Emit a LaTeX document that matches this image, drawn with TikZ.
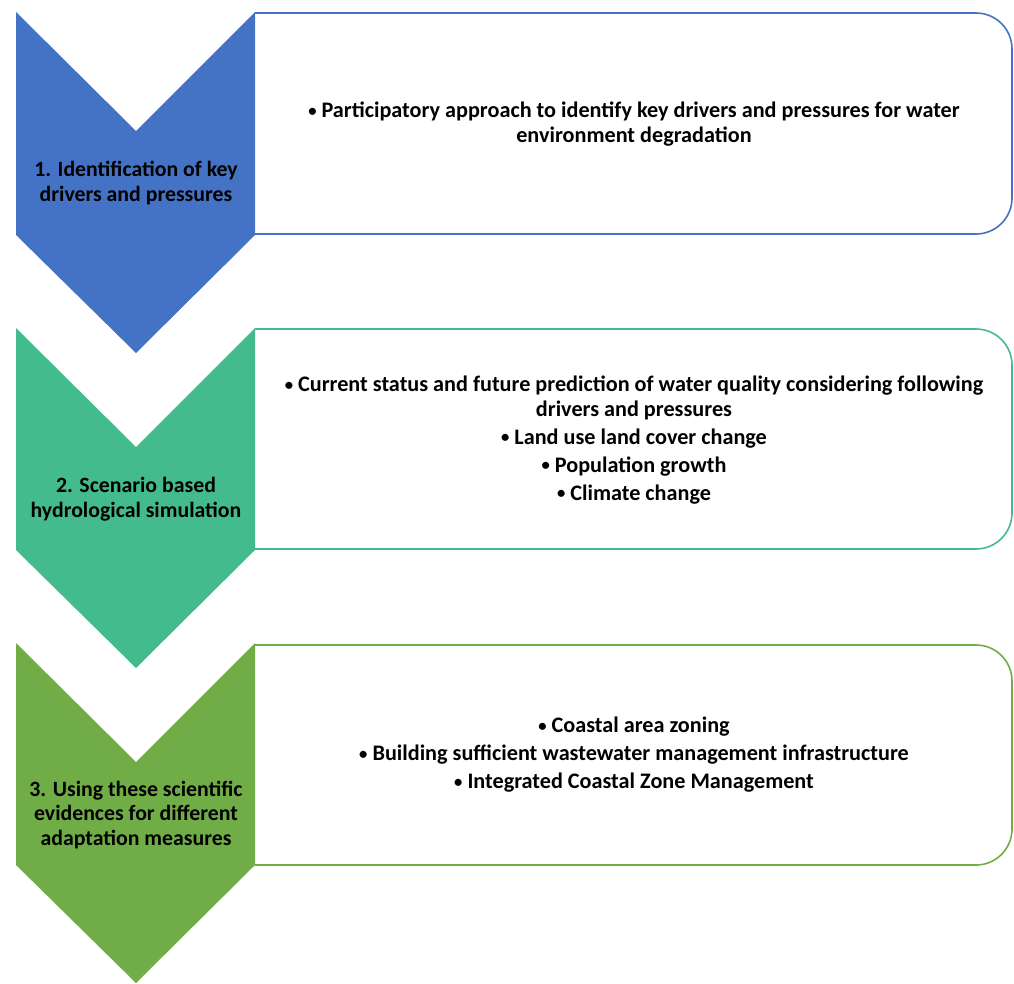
\documentclass[tikz,border=0pt]{standalone}
\usepackage{graphicx}
\usepackage{fontspec}
\setmainfont{Carlito}
\definecolor{cblue}{HTML}{4472C4}
\definecolor{cteal}{HTML}{44BB8C}
\definecolor{cgreen}{HTML}{70AD47}
\newcommand{\bul}{\raisebox{1.3pt}{\scalebox{0.75}{•}}}
\tikzset{
  infobox/.style={line width=1.6pt},
  chevtext/.style={align=center, font=\bfseries\fontsize{21.8}{24.5}\selectfont, text=black, inner sep=0pt},
  boxtext/.style={align=center, font=\bfseries\fontsize{22.2}{24.5}\selectfont, text=black, inner sep=0pt},
}
\begin{document}
\begin{tikzpicture}[x=1pt,y=-1pt]
\useasboundingbox (0,0) rectangle (1014,983);
% boxes
\draw[infobox, draw=cblue] (255,13) [rounded corners=36pt] -- (1012,13) -- (1012,234) [sharp corners] -- (255,234);
\draw[infobox, draw=cteal] (255,329) [rounded corners=36pt] -- (1012,329) -- (1012,549) [sharp corners] -- (255,549);
\draw[infobox, draw=cgreen] (255,645) [rounded corners=36pt] -- (1012,645) -- (1012,865) [sharp corners] -- (255,865);
% chevrons
\fill[cblue] (16,12) -- (136,131) -- (255,12) -- (255,235) -- (136,353) -- (16,235) -- cycle;
\fill[cteal] (16,328) -- (136,447) -- (255,328) -- (255,550) -- (136,668) -- (16,550) -- cycle;
\fill[cgreen] (16,643) -- (136,762) -- (255,643) -- (255,865) -- (136,983) -- (16,865) -- cycle;
% chevron texts
\node[chevtext] (c1) at (136,183) {1. Identification of key\\drivers and pressures};
\node[chevtext] (c2) at (136,499) {2. Scenario based\\hydrological simulation};
\node[chevtext] (c3) at (136,815) {3. Using these scientific\\evidences for different\\adaptation measures};
% box texts
\node[boxtext] (b1) at (634,124) {\bul{} Participatory approach to identify key drivers and pressures for water\\environment degradation};
\node[boxtext] (b2) at (634,440) {\bul{} Current status and future prediction of water quality considering following\\drivers and pressures\\[3.5pt]\bul{} Land use land cover change\\[3.5pt]\bul{} Population growth\\[3.5pt]\bul{} Climate change};
\node[boxtext] (b3) at (634,755) {\bul{} Coastal area zoning\\[3.5pt]\bul{} Building sufficient wastewater management infrastructure\\[3.5pt]\bul{} Integrated Coastal Zone Management};
\end{tikzpicture}
\end{document}
